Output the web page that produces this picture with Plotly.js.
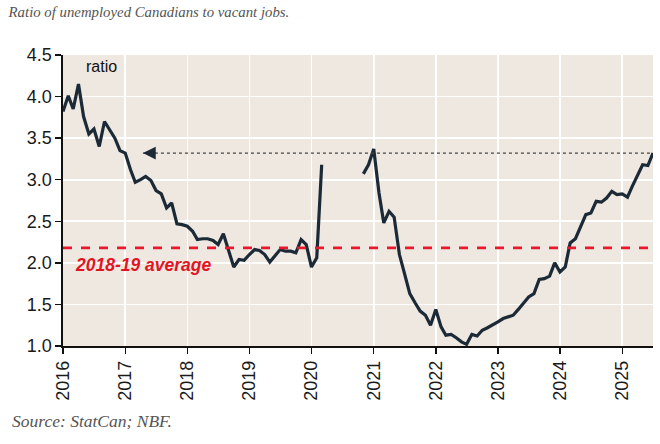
<!DOCTYPE html>
<html>
<head>
<meta charset="utf-8">
<script src="https://cdn.plot.ly/plotly-3.0.1.min.js"></script>
<style>html,body{margin:0;padding:0;background:#fff;}#chart{width:660px;height:444px;}</style>
</head>
<body>
<div id="chart"></div>
<script>
// Monthly series starting January 2016 (null = no survey data, 2020 gap)
const startYear = 2016;
const ratio = [
  3.82, 4.01, 3.85, 4.15, 3.76, 3.55, 3.61, 3.40, 3.70, 3.60, 3.50, 3.35,
  3.32, 3.12, 2.97, 3.00, 3.04, 2.99, 2.87, 2.83, 2.66, 2.72, 2.47, 2.46,
  2.44, 2.38, 2.28, 2.29, 2.29, 2.27, 2.22, 2.35, 2.16, 1.95, 2.04, 2.03,
  2.10, 2.16, 2.15, 2.10, 2.01, 2.08, 2.16, 2.14, 2.14, 2.12, 2.28, 2.22,
  1.95, 2.06, 3.18, null, null, null, null, null, null, null, 3.07, 3.18,
  3.37, 2.84, 2.48, 2.62, 2.55, 2.10, 1.87, 1.63, 1.52, 1.42, 1.37, 1.25,
  1.44, 1.23, 1.13, 1.14, 1.10, 1.05, 1.02, 1.14, 1.12, 1.19, 1.22, 1.25,
  1.29, 1.33, 1.35, 1.37, 1.44, 1.51, 1.59, 1.63, 1.80, 1.81, 1.84, 2.00,
  1.89, 1.95, 2.24, 2.29, 2.43, 2.58, 2.60, 2.74, 2.73, 2.78, 2.86, 2.82,
  2.83, 2.79, 2.92, 3.06, 3.18, 3.17, 3.32
];
const avg1819 = 2.18;
const avgLabel = "2018-19 average";
const arrowTipDate = "2017-04-15";
const yTicks = [1.0, 1.5, 2.0, 2.5, 3.0, 3.5, 4.0, 4.5];
const yearTicks = ["2016","2017","2018","2019","2020","2021","2022","2023","2024","2025"];

function monthDate(i) {
  const y = startYear + Math.floor(i / 12);
  const m = (i % 12) + 1;
  return y + "-" + String(m).padStart(2, "0") + "-01";
}
const dates = ratio.map((_, i) => monthDate(i));
const lastDate = dates[dates.length - 1];
const lastVal = ratio[ratio.length - 1];

const trace = {
  x: dates, y: ratio, type: "scatter", mode: "lines",
  connectgaps: false,
  line: {color: "#1b2a36", width: 3.2},
  hoverinfo: "x+y"
};

const layout = {
  width: 660, height: 444,
  margin: {l: 63, r: 7, t: 55, b: 98},
  paper_bgcolor: "#ffffff",
  plot_bgcolor: "#eee8e1",
  showlegend: false,
  title: {
    text: "Ratio of unemployed Canadians to vacant jobs.",
    font: {family: "Liberation Serif, DejaVu Serif, serif", size: 14.8, color: "#555555", style: "italic"},
    x: 0.013, xanchor: "left", xref: "container",
    y: 0.973, yanchor: "middle", yref: "container"
  },
  xaxis: {
    type: "date",
    range: ["2016-01-01", lastDate],
    tickvals: yearTicks.map(y => y + "-01-01"),
    ticktext: yearTicks,
    tickangle: -90,
    tickfont: {family: "Liberation Sans, Arial, sans-serif", size: 18, color: "#1a1a1a"},
    showgrid: true, gridcolor: "#ffffff", gridwidth: 1.6,
    showline: true, linecolor: "#111111", linewidth: 1.6,
    ticks: "outside", ticklen: 6, tickwidth: 1.4, tickcolor: "#111111",
    zeroline: false, fixedrange: true
  },
  yaxis: {
    range: [1.0, 4.5],
    tickvals: yTicks,
    ticktext: yTicks.map(v => v.toFixed(1)),
    tickfont: {family: "Liberation Sans, Arial, sans-serif", size: 18, color: "#1a1a1a"},
    showgrid: true, gridcolor: "#ffffff", gridwidth: 1.6,
    showline: true, linecolor: "#111111", linewidth: 1.6,
    ticks: "outside", ticklen: 6, tickwidth: 1.4, tickcolor: "#111111",
    zeroline: false, fixedrange: true
  },
  shapes: [
    {type: "line", xref: "paper", x0: 0, x1: 1, yref: "y", y0: avg1819, y1: avg1819,
     line: {color: "#e8192c", width: 2.6, dash: "dash"}},
    {type: "line", xref: "x", x0: arrowTipDate, x1: lastDate, yref: "y", y0: lastVal, y1: lastVal,
     line: {color: "#444444", width: 1.2, dash: "dot"}}
  ],
  annotations: [
    {x: arrowTipDate, y: lastVal, xref: "x", yref: "y",
     ax: 14, ay: 0, axref: "pixel", ayref: "pixel",
     showarrow: true, arrowhead: 2, arrowsize: 1.6, arrowwidth: 1.6, arrowcolor: "#1b2a36", text: ""},
    {x: "2016-05-01", y: 4.36, xref: "x", yref: "y", xanchor: "left", yanchor: "middle",
     text: "ratio", showarrow: false,
     font: {family: "Liberation Sans, Arial, sans-serif", size: 16, color: "#111111"}},
    {x: "2016-03-01", y: 1.97, xref: "x", yref: "y", xanchor: "left", yanchor: "middle",
     text: "<b><i>" + avgLabel + "</i></b>", showarrow: false,
     font: {family: "Liberation Sans, Arial, sans-serif", size: 17.5, color: "#e3141f"}},
    {x: 0, y: 0, xref: "paper", yref: "paper", xanchor: "left", yanchor: "middle",
     text: "<i>Source: StatCan; NBF.</i>", showarrow: false,
     font: {family: "Liberation Serif, DejaVu Serif, serif", size: 17.5, color: "#555555"}}
  ]
};
// source note positioned in container coordinates
layout.annotations[3].x = (10 - 63) / (660 - 63 - 7);
layout.annotations[3].y = (346 - 421) / (346 - 55);

Plotly.newPlot("chart", [trace], layout, {displayModeBar: false, staticPlot: true});
</script>
</body>
</html>
